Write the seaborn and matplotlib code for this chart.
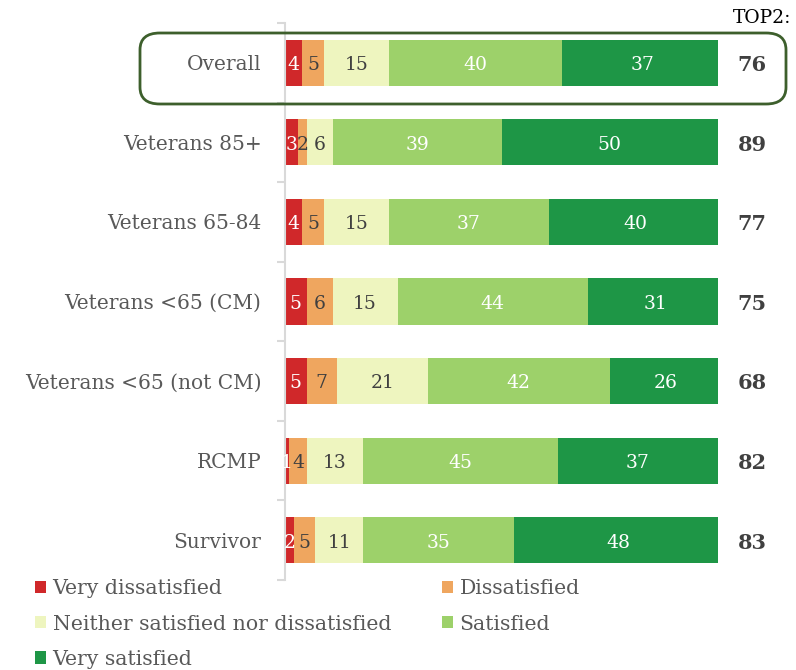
import matplotlib
matplotlib.use("Agg")
import matplotlib.pyplot as plt
import seaborn as sns
import numpy as np
import pandas as pd
from matplotlib.patches import Patch, FancyBboxPatch

categories = ["Overall", "Veterans 85+", "Veterans 65-84", "Veterans <65 (CM)",
              "Veterans <65 (not CM)", "RCMP", "Survivor"]
very_dissatisfied = [4, 3, 4, 5, 5, 1, 2]
dissatisfied = [5, 2, 5, 6, 7, 4, 5]
neither = [15, 6, 15, 15, 21, 13, 11]
satisfied = [40, 39, 37, 44, 42, 45, 35]
very_satisfied = [37, 50, 40, 31, 26, 37, 48]
top2 = [76, 89, 77, 75, 68, 82, 83]
series_names = ["Very dissatisfied", "Dissatisfied",
                "Neither satisfied nor dissatisfied", "Satisfied", "Very satisfied"]

colors = ["#d0282a", "#efa65f", "#eef5bf", "#9dd16a", "#1e9646"]
text_colors = ["white", "#404040", "#404040", "white", "white"]

sns.set_theme(style="white")
plt.rcParams["font.family"] = ["DejaVu Serif"]

series = [very_dissatisfied, dissatisfied, neither, satisfied, very_satisfied]
df = pd.DataFrame({"category": categories})
for name, vals in zip(series_names, series):
    df[name] = vals
cum = df[series_names].cumsum(axis=1)

fig = plt.figure(figsize=(7.96, 6.7), dpi=100)
ax = fig.add_axes([285/796, 1-580/670, 433/796, 557/670])

# overlay cumulative bars from largest to smallest
for i in range(len(series_names) - 1, -1, -1):
    sub = pd.DataFrame({"category": categories, "value": cum[series_names[i]].values})
    sns.barplot(data=sub, y="category", x="value", order=categories, orient="h",
                color=colors[i], saturation=1, width=0.58, ax=ax, linewidth=0)

ax.set_xlim(0, 100)
ax.set_ylim(6.5, -0.5)
ax.set_xlabel("")
ax.set_ylabel("")
ax.set_xticks([])
for s in ["top", "right", "bottom"]:
    ax.spines[s].set_visible(False)
ax.spines["left"].set_color("#d9d9d9")
ax.spines["left"].set_linewidth(1.5)
ax.tick_params(axis="y", which="major", left=False, length=0, pad=17, labelsize=14.5,
               labelcolor="#595959")
ax.set_yticks(np.arange(-0.5, 7.0, 1.0), minor=True)
ax.tick_params(axis="y", which="minor", left=True, length=6, width=1.5, color="#d9d9d9",
               direction="out")

# segment labels
for r in range(len(categories)):
    start = 0
    for i, vals in enumerate(series):
        v = vals[r]
        center = start + v / 2
        ax.text(center, r + 0.03, str(v), ha="center", va="center", fontsize=13.5,
                color=text_colors[i])
        start += v

# TOP2 column
for r, v in enumerate(top2):
    ax.text(107.9, r + 0.03, str(v), ha="center", va="center", fontsize=15,
            fontweight="bold", color="#404040", clip_on=False)
fig.text(791/796, 1-18/670, "TOP2:", ha="right", va="center", fontsize=13.5, color="black")

# Highlight box around Overall
box = FancyBboxPatch((140/796, 1-104/670), (786-140)/796, (104-33)/670,
                     boxstyle="round,pad=0,rounding_size=0.025", transform=fig.transFigure,
                     fill=False, edgecolor="#3d5f2c", linewidth=2, zorder=10)
fig.patches.append(box)

handles = [Patch(facecolor=c, edgecolor="none") for c in colors]
order = [0, 2, 4, 1, 3]
leg = fig.legend([handles[i] for i in order], [series_names[i] for i in order],
                 loc="upper left", bbox_to_anchor=(27/796, 1-571/670), ncol=2,
                 frameon=False, fontsize=14.7, handlelength=0.55, handleheight=0.55,
                 handletextpad=0.3, columnspacing=2.5, labelspacing=0.8,
                 borderaxespad=0)
for t in leg.get_texts():
    t.set_color("#595959")

fig.savefig("out.png", dpi=100)
